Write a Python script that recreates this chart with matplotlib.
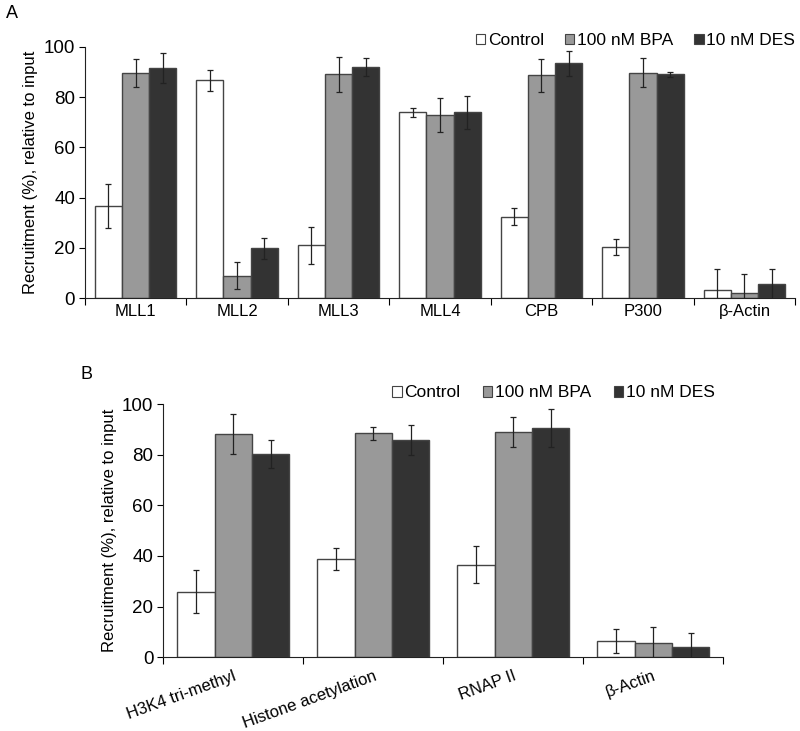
import numpy as np
import matplotlib
matplotlib.use('Agg')
import matplotlib.pyplot as plt
from matplotlib.patches import Patch

plt.rcParams['font.family'] = ['Liberation Sans', 'DejaVu Sans']

series = ['Control', '100 nM BPA', '10 nM DES']
colors = ['white', '#999999', '#333333']

# Panel A
cats_a = ['MLL1', 'MLL2', 'MLL3', 'MLL4', 'CPB', 'P300', 'β-Actin']
ctrl_a = [36.6, 86.7, 21.0, 73.9, 32.5, 20.3, 3.2]
bpa_a = [89.7, 9.0, 89.0, 72.8, 88.7, 89.7, 2.0]
des_a = [91.5, 19.9, 91.9, 73.9, 93.5, 89.0, 5.7]
ctrl_a_err = [8.7, 4.2, 7.4, 1.8, 3.5, 3.2, 8.5]
bpa_a_err = [5.5, 5.4, 6.8, 6.7, 6.6, 5.8, 7.7]
des_a_err = [5.9, 4.2, 3.5, 6.4, 5.0, 1.0, 6.0]

# Panel B
cats_b = ['H3K4 tri-methyl', 'Histone acetylation', 'RNAP II', 'β-Actin']
ctrl_b = [25.9, 38.8, 36.6, 6.3]
bpa_b = [88.2, 88.5, 88.9, 5.7]
des_b = [80.4, 85.7, 90.5, 4.1]
ctrl_b_err = [8.4, 4.2, 7.4, 4.7]
bpa_b_err = [7.9, 2.6, 5.9, 6.2]
des_b_err = [5.6, 5.9, 7.6, 5.4]


def draw_panel(ax, cats, vals, errs, rotate=False):
    x = np.arange(len(cats))
    w = 0.267
    for i, (v, e) in enumerate(zip(vals, errs)):
        ax.bar(x + (i - 1) * w, v, w, color=colors[i], edgecolor='#444444',
               linewidth=1.0, yerr=e, capsize=2,
               error_kw=dict(elinewidth=0.9, ecolor='#222222', capthick=0.9),
               label=series[i], zorder=2)
    ax.set_xlim(-0.5, len(cats) - 0.5)
    ax.set_ylim(0, 100)
    ax.set_yticks([0, 20, 40, 60, 80, 100])
    ax.set_xticks(np.arange(len(cats) + 1) - 0.5)
    ax.set_xticklabels([])
    ax.set_xticks(x, minor=True)
    ax.tick_params(axis='x', which='minor', length=0, labelsize=12, pad=4)
    ax.tick_params(axis='x', which='major', length=5, direction='out')
    ax.tick_params(axis='y', length=4, direction='out', labelsize=13.5, pad=3)
    if rotate:
        ax.set_xticklabels(cats, minor=True, rotation=20, ha='right',
                           rotation_mode='anchor')
    else:
        ax.set_xticklabels(cats, minor=True)
    for s in ['top', 'right']:
        ax.spines[s].set_visible(False)
    ax.spines['left'].set_color('#222222')
    ax.spines['bottom'].set_color('#222222')
    ax.set_ylabel('Recruitment (%), relative to input', fontsize=12)
    handles = [Patch(facecolor=c, edgecolor='#444444', linewidth=0.8) for c in colors]
    return handles


fig = plt.figure(figsize=(8, 7.31), dpi=100)

ax1 = fig.add_axes([0.106, 0.592, 0.888, 0.344])
h = draw_panel(ax1, cats_a, [ctrl_a, bpa_a, des_a], [ctrl_a_err, bpa_a_err, des_a_err])
ax1.legend(h, series, loc='lower right', bbox_to_anchor=(1.0, 0.995), ncol=3,
           frameon=False, fontsize=12.5, handlelength=0.55, handleheight=0.55,
           handletextpad=0.15, columnspacing=1.2, borderaxespad=0, borderpad=0)

ax2 = fig.add_axes([0.204, 0.101, 0.700, 0.346])
h = draw_panel(ax2, cats_b, [ctrl_b, bpa_b, des_b], [ctrl_b_err, bpa_b_err, des_b_err],
               rotate=True)
ax2.tick_params(axis='x', which='minor', pad=8)
ax2.legend(h, series, loc='lower right', bbox_to_anchor=(0.985, 1.015), ncol=3,
           frameon=False, fontsize=12.5, handlelength=0.55, handleheight=0.55,
           handletextpad=0.15, columnspacing=1.3, borderaxespad=0, borderpad=0)

fig.text(0.008, 0.975, 'A', fontsize=13)
fig.text(0.100, 0.482, 'B', fontsize=13)

fig.savefig('out.png', dpi=100, facecolor='white')
